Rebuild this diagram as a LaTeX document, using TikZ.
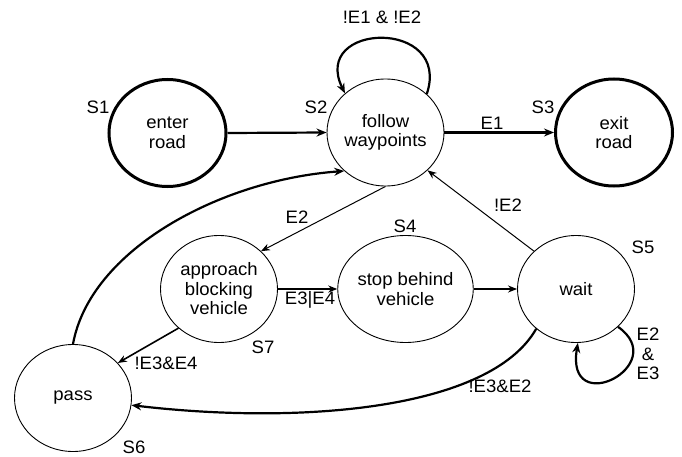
\documentclass[tikz,border=0pt]{standalone}
\usepackage{fontspec}
\setmainfont{Liberation Sans}[FakeStretch=1.03]
\usetikzlibrary{shapes.geometric,arrows.meta}

\begin{document}
\begin{tikzpicture}[
  x=1pt, y=-1pt,
  every node/.style={font=\fontsize{18}{19.5}\selectfont},
  state/.style={ellipse, draw, line width=0.9pt, minimum width=117pt,
    minimum height=107pt, inner sep=0pt, align=center},
  endstate/.style={state, line width=3pt},
  tag/.style={inner sep=0pt, align=center},
  bold/.style={line width=2.2pt, -{Stealth[length=10pt,width=8pt]}},
  medium/.style={line width=1.6pt, -{Stealth[length=9pt,width=7pt]}},
  thin/.style={line width=1pt, -{Stealth[length=9pt,width=7pt]}},
]
  % canvas
  \path[fill=white] (0,0) rectangle (682,457);

  % states
  \node[endstate] (s1) at (167.5,133) {enter\\road};
  \node[state]    (s2) at (385.5,132.5) {follow\\waypoints};
  \node[endstate] (s3) at (614,132.5) {exit\\road};
  \node[state]    (s7) at (219,289) {approach\\blocking\\vehicle};
  \node[state]    (s4) at (405.5,289) {stop behind\\vehicle};
  \node[state]    (s5) at (576,289) {wait};
  \node[state]    (s6) at (73,398) {pass};

  % state numbers
  \node[tag] (n1) at (98,107)  {S1};
  \node[tag] (n2) at (316,107) {S2};
  \node[tag] (n3) at (543,107) {S3};
  \node[tag] (n4) at (405,226) {S4};
  \node[tag] (n5) at (643,247) {S5};
  \node[tag] (n6) at (134,447) {S6};
  \node[tag] (n7) at (263,347) {S7};

  % transitions
  \draw[bold] (s1.east) -- (s2.west);
  \draw[bold] (s2.east) -- (s3.west);
  \draw[bold] (s2.43) .. controls (452,18) and (310,22) .. (s2.136);
  \draw[thin] (s2.270) -- (s7.42);
  \draw[medium] (s7.east) -- (s4.west);
  \draw[medium] (s4.east) -- (s5.west);
  \draw[thin] (s5.138) -- (s2.-42);
  \draw[medium] (s7.224) -- (s6.38);
  \draw[bold] (s6.north) .. controls (90,250) and (220,180) .. (s2.223);
  \draw[bold] (s5.225) .. controls (490,410) and (300,425) .. (s6.-7);
  \draw[bold] (s5.-42) .. controls (672,365) and (565,420) .. (s5.-88);

  % transition labels
  \node[tag] (l1) at (382,17)  {!E1 \& !E2};
  \node[tag] (l2) at (492,123) {E1};
  \node[tag] (l3) at (297,217) {E2};
  \node[tag] (l4) at (508,205) {!E2};
  \node[tag] (l5) at (310,300) {E3|E4};
  \node[tag] (l6) at (166,363) {!E3\&E4};
  \node[tag] (l7) at (500,386) {!E3\&E2};
  \node[tag] (l8) at (648,354) {E2\\\&\\E3};
\end{tikzpicture}
\end{document}
